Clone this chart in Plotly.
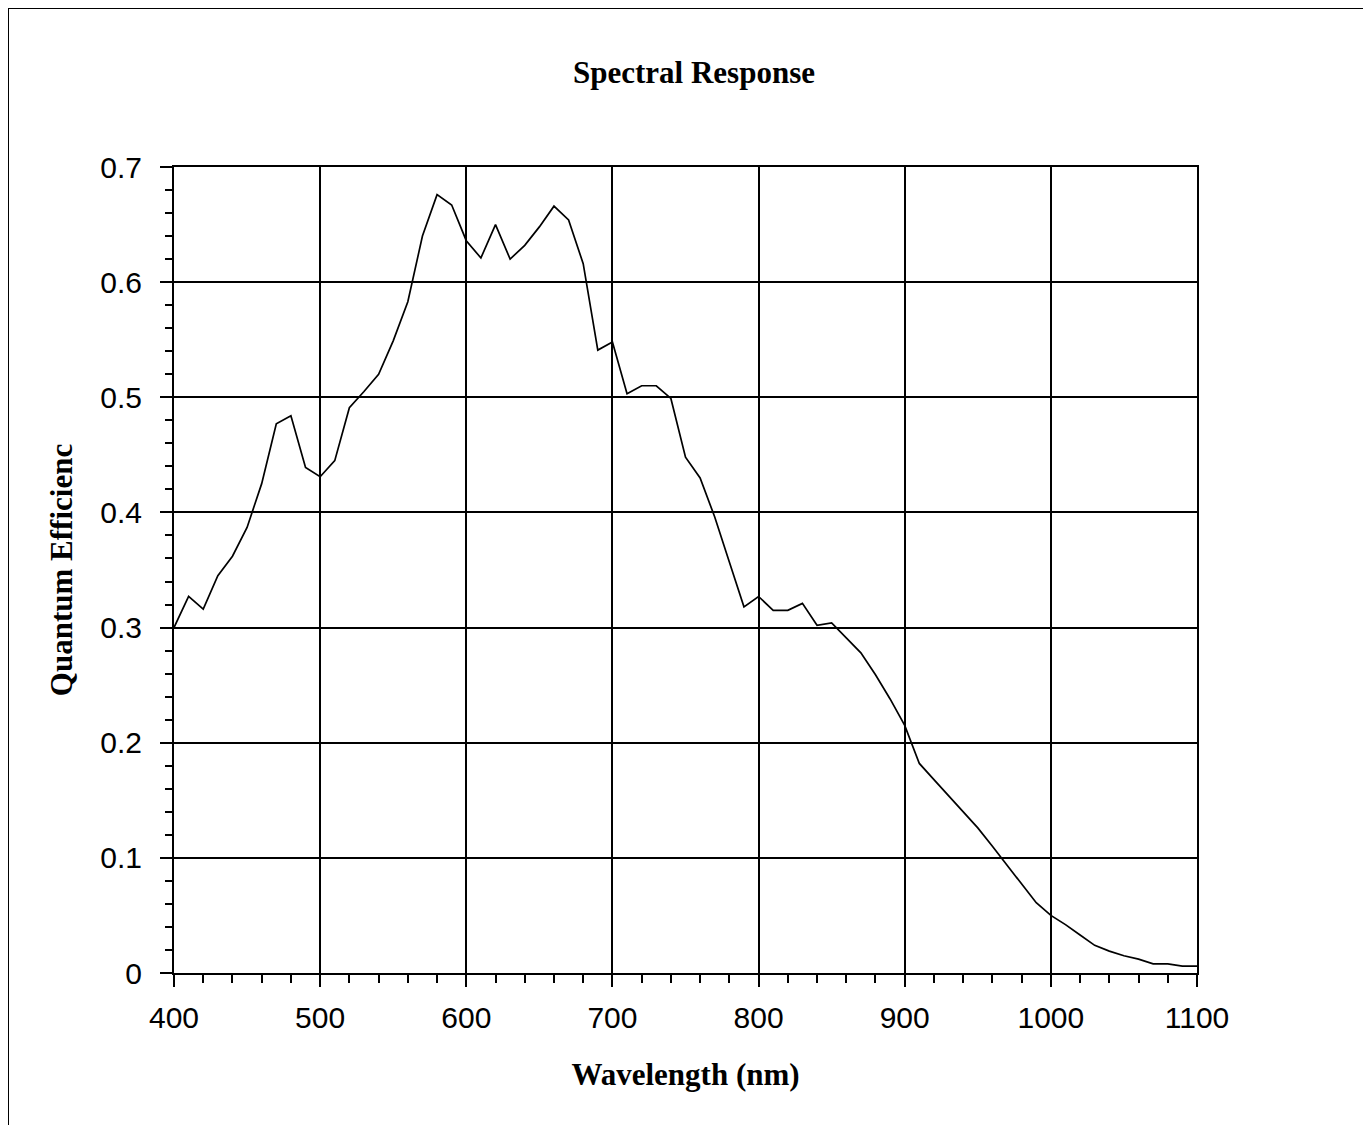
import plotly.graph_objects as go

wavelength_nm = list(range(400, 1101, 10))
quantum_efficiency = [
    0.300, 0.327, 0.316, 0.345, 0.362, 0.387, 0.425, 0.477, 0.484, 0.439,
    0.431, 0.445, 0.491, 0.505, 0.520, 0.549, 0.583, 0.640, 0.676, 0.667,
    0.636, 0.621, 0.650, 0.620, 0.632, 0.648, 0.666, 0.654, 0.616, 0.541,
    0.548, 0.503, 0.510, 0.510, 0.499, 0.448, 0.430, 0.396, 0.357, 0.318,
    0.327, 0.315, 0.315, 0.321, 0.302, 0.304, 0.291, 0.278, 0.259, 0.238,
    0.215, 0.182, 0.168, 0.154, 0.140, 0.126, 0.110, 0.094, 0.077, 0.061,
    0.050, 0.042, 0.033, 0.024, 0.019, 0.015, 0.012, 0.008, 0.008, 0.006,
    0.006,
]
x_ticks = [400, 500, 600, 700, 800, 900, 1000, 1100]
y_ticks = [0, 0.1, 0.2, 0.3, 0.4, 0.5, 0.6, 0.7]
y_tick_text = ["0", "0.1", "0.2", "0.3", "0.4", "0.5", "0.6", "0.7"]

# page body has an 8px margin, so the figure is sized to fit the window
OFF = 8
W, H = 1371 - OFF, 1125 - OFF
L, R, T, B = 174 - OFF, 1197 - OFF, 167 - OFF, 973 - OFF

fig = go.Figure()
fig.add_trace(go.Scatter(
    x=wavelength_nm, y=quantum_efficiency, mode="lines",
    line=dict(color="black", width=1.7), showlegend=False,
))

serif = "Liberation Serif, Times New Roman, serif"
sans = "Liberation Sans, Arial, sans-serif"

fig.update_layout(
    width=W, height=H,
    margin=dict(l=L, r=W - R, t=T, b=H - B, pad=0),
    paper_bgcolor="white", plot_bgcolor="white",
    title=dict(text="<b>Spectral Response</b>", x=(694 - OFF) / W, xanchor="center",
               y=1 - (72 - OFF) / H, yanchor="middle", yref="container",
               font=dict(family=serif, size=31, color="black")),
    xaxis=dict(
        range=[400, 1100], tickvals=x_ticks, ticks="outside", ticklen=12,
        tickwidth=2, tickcolor="black", showline=True, linecolor="black",
        linewidth=2, mirror=True, showgrid=True, gridcolor="black",
        gridwidth=1.8, zeroline=False, ticklabelstandoff=5,
        tickfont=dict(family=sans, size=30, color="black"),
        minor=dict(ticks="outside", ticklen=8, tickwidth=2, tickcolor="black",
                   dtick=20, tick0=400, showgrid=False),
        title=dict(text="<b>Wavelength (nm)</b>", standoff=30,
                   font=dict(family=serif, size=31, color="black")),
    ),
    yaxis=dict(
        range=[0, 0.7], tickvals=y_ticks, ticktext=y_tick_text, ticks="outside",
        ticklen=12, tickwidth=2, tickcolor="black", showline=True,
        linecolor="black", linewidth=2, mirror=True, showgrid=True,
        gridcolor="black", gridwidth=1.8, zeroline=False, ticklabelstandoff=12,
        tickfont=dict(family=sans, size=30, color="black"),
        minor=dict(ticks="outside", ticklen=7, tickwidth=2, tickcolor="black",
                   dtick=0.02, tick0=0, showgrid=False),
        title=dict(text="<b>Quantum Efficienc</b>", standoff=18,
                   font=dict(family=serif, size=31, color="black")),
    ),
)

# outer frame of the chart sheet (left and top edges visible)
fig.add_shape(type="rect", xref="paper", yref="paper",
              x0=(8 - 174) / (R - L), x1=1.4,
              y0=-0.5, y1=(973 - 8) / (B - T),
              line=dict(color="black", width=2), fillcolor="rgba(0,0,0,0)",
              layer="below")

fig.write_html("out.html")
